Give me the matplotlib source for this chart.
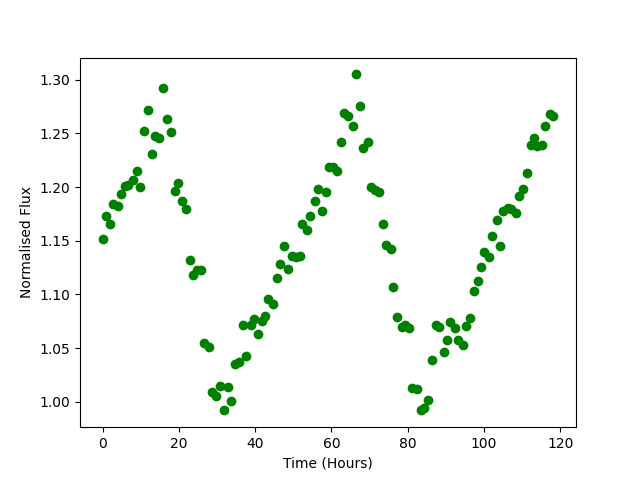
import matplotlib
matplotlib.use("Agg")
import matplotlib.pyplot as plt

# time in hours
time_hours = [0.0, 0.8, 1.9, 2.8, 4.1, 4.8, 5.8, 6.8, 7.9, 9.0,
              9.8, 10.8, 11.9, 12.9, 13.8, 14.9, 15.8, 16.8, 17.9, 18.9,
              19.7, 20.8, 21.8, 22.9, 23.7, 24.7, 25.9, 26.7, 27.8, 28.6,
              29.7, 30.7, 31.8, 32.8, 33.7, 34.7, 35.7, 36.7, 37.7, 38.8,
              39.6, 40.7, 41.7, 42.5, 43.5, 44.6, 45.7, 46.6, 47.5, 48.5,
              49.6, 50.7, 51.8, 52.4, 53.5, 54.5, 55.6, 56.6, 57.5, 58.5,
              59.4, 60.5, 61.4, 62.4, 63.3, 64.4, 65.6, 66.4, 67.4, 68.4,
              69.5, 70.5, 71.4, 72.6, 73.4, 74.4, 75.5, 76.2, 77.3, 78.4,
              79.3, 80.3, 81.2, 82.4, 83.5, 84.3, 85.2, 86.3, 87.3, 88.3,
              89.4, 90.3, 91.2, 92.4, 93.3, 94.4, 95.2, 96.2, 97.3, 98.3,
              99.1, 100.1, 101.2, 102.2, 103.3, 104.1, 105.1, 106.2, 107.2, 108.3,
              109.1, 110.1, 111.2, 112.2, 113.2, 114.0, 115.1, 116.1, 117.2, 118.2]

flux = [1.152, 1.173, 1.166, 1.184, 1.182, 1.194, 1.201, 1.202, 1.207, 1.215,
        1.200, 1.252, 1.272, 1.231, 1.248, 1.246, 1.292, 1.263, 1.251, 1.196,
        1.204, 1.187, 1.180, 1.132, 1.118, 1.123, 1.123, 1.055, 1.051, 1.009,
        1.005, 1.015, 0.992, 1.014, 1.001, 1.035, 1.037, 1.072, 1.043, 1.072,
        1.077, 1.063, 1.075, 1.080, 1.096, 1.091, 1.115, 1.128, 1.145, 1.124,
        1.136, 1.135, 1.136, 1.166, 1.160, 1.173, 1.187, 1.198, 1.178, 1.195,
        1.219, 1.219, 1.215, 1.242, 1.269, 1.266, 1.257, 1.305, 1.276, 1.236,
        1.242, 1.200, 1.197, 1.195, 1.166, 1.146, 1.142, 1.107, 1.079, 1.070,
        1.072, 1.069, 1.013, 1.012, 0.992, 0.994, 1.002, 1.039, 1.072, 1.070,
        1.046, 1.058, 1.074, 1.069, 1.058, 1.053, 1.071, 1.078, 1.103, 1.113,
        1.126, 1.140, 1.135, 1.154, 1.169, 1.145, 1.178, 1.181, 1.180, 1.176,
        1.192, 1.198, 1.213, 1.239, 1.246, 1.238, 1.239, 1.257, 1.268, 1.266]

plt.figure(figsize=(6.4, 4.8), dpi=100)
plt.plot(time_hours, flux, 'go')
plt.xlabel("Time (Hours)")
plt.ylabel("Normalised Flux")
plt.savefig("out.png")
